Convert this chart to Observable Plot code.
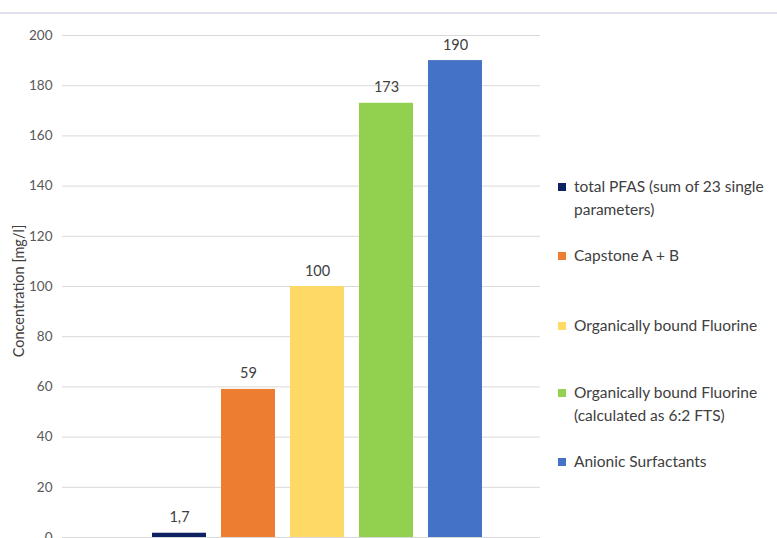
<!DOCTYPE html>
<html><head><meta charset="utf-8">
<script src="https://cdn.jsdelivr.net/npm/d3@7"></script>
<script src="https://cdn.jsdelivr.net/npm/@observablehq/plot@0.6"></script>
<style>
body{margin:0;background:#fff;font-family:Lato,sans-serif;}
#wrap{position:relative;width:777px;height:538px;overflow:hidden;}
#topline{position:absolute;left:0;top:12px;width:777px;height:2px;background:#dfe2ec;}
#legend{position:absolute;left:558px;top:0;width:219px;font-size:15.5px;color:#404040;}
.li{position:absolute;left:0;display:flex;align-items:flex-start;line-height:23px;white-space:nowrap;}
.sw{width:8px;height:8px;margin-top:8px;margin-right:8px;flex:none;}
#ylab{position:absolute;left:18px;top:291px;transform:translate(-50%,-50%) rotate(-90deg);font-size:14.5px;color:#404040;white-space:nowrap;}
</style></head>
<body><div id="wrap"><div id="topline"></div><div id="chart"></div><div id="legend"></div><div id="ylab">Concentration [mg/l]</div></div>
<script>
const categories = ["total PFAS (sum of 23 single parameters)", "Capstone A + B", "Organically bound Fluorine", "Organically bound Fluorine (calculated as 6:2 FTS)", "Anionic Surfactants"];
const legendLines = [["total PFAS (sum of 23 single", "parameters)"], ["Capstone A + B"], ["Organically bound Fluorine"], ["Organically bound Fluorine", "(calculated as 6:2 FTS)"], ["Anionic Surfactants"]];
const values = [1.7, 59, 100, 173, 190];
const valueLabels = ["1,7", "59", "100", "173", "190"];
const colors = ["#0e2160", "#ed7d31", "#ffd966", "#92d050", "#4472c4"];
const yTicks = [0, 20, 40, 60, 80, 100, 120, 140, 160, 180, 200];

const data = categories.map((c, i) => ({cat: c, v: values[i], label: valueLabels[i]}));

const plot = Plot.plot({
  width: 777, height: 538,
  marginTop: 35, marginBottom: 1, marginLeft: 62, marginRight: 237,
  style: {fontFamily: "Lato, sans-serif", fontSize: "13.5px", color: "#595959", background: "transparent", overflow: "visible"},
  x: {domain: categories, range: [137, 497], padding: 0.217, axis: null},
  y: {domain: [0, 200], ticks: yTicks, label: null},
  color: {domain: categories, range: colors},
  marks: [
    Plot.ruleY(yTicks, {stroke: "#d9d9d9", strokeWidth: 1}),
    Plot.axisY({ticks: yTicks, tickSize: 0, tickPadding: 10, label: null, fontSize: 13.5, fill: "#595959"}),
    Plot.barY(data, {x: "cat", y: "v", fill: "cat"}),
    Plot.text(data, {x: "cat", y: "v", text: "label", lineAnchor: "bottom", dy: -11, fontSize: 14.5, fill: "#404040"})
  ]
});
document.getElementById("chart").appendChild(plot);

const legendTops = [175, 244, 314, 381, 450];
const lg = document.getElementById("legend");
categories.forEach((c, i) => {
  const d = document.createElement("div");
  d.className = "li";
  d.style.top = legendTops[i] + "px";
  d.innerHTML = `<div class="sw" style="background:${colors[i]}"></div><div>${legendLines[i].join("<br>")}</div>`;
  lg.appendChild(d);
});
</script></body></html>
